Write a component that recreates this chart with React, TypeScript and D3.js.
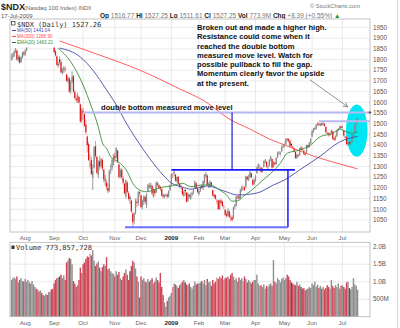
import React from "react";
import * as d3 from "d3";

// ---------- categories ----------
const holidays = ["2008-09-01", "2008-11-27", "2008-12-25", "2009-01-01", "2009-01-19", "2009-02-16", "2009-04-10", "2009-05-25", "2009-07-03"];
const monthLabels = ["Aug", "Sep", "Oct", "Nov", "Dec", "2009", "Feb", "Mar", "Apr", "May", "Jun", "Jul"];
const priceTicks = [1050, 1100, 1150, 1200, 1250, 1300, 1350, 1400, 1450, 1500, 1550, 1600, 1650, 1700, 1750, 1800, 1850, 1900, 1950];
const volTicks = [0.5, 1.0, 1.5, 2.0];
const volTickLabels = ["500M", "1.0B", "1.5B", "2.0B"];

// ---------- daily OHLC (Jul 18 2008 .. Jul 17 2009) ----------
const opens = [
  1805, 1812, 1818, 1838, 1842, 1798, 1812, 1788, 1808, 1832,
  1822, 1842, 1858, 1882, 1892, 1902, 1918, 1942, 1948, 1922, 1932, 1912, 1922, 1902, 1878, 1892, 1902, 1893, 1912, 1922, 1898,
  1890, 1838, 1815, 1770, 1800, 1788, 1738, 1752, 1758, 1730, 1698, 1712, 1655, 1698, 1722, 1648, 1618, 1612, 1625, 1590, 1515,
  1560, 1545, 1495, 1440, 1405, 1300, 1330, 1250, 1295, 1395, 1345, 1260, 1325, 1305, 1330, 1285, 1230, 1225, 1200, 1190, 1285, 1295, 1320,
  1350, 1345, 1375, 1310, 1255, 1285, 1245, 1220, 1160, 1225, 1175, 1155, 1140, 1080, 1050, 1085, 1135, 1130, 1180,
  1165, 1115, 1135, 1158, 1120, 1185, 1210, 1205, 1210, 1160, 1190, 1180, 1222, 1212, 1205, 1195, 1168, 1158, 1165, 1168, 1160, 1188,
  1215, 1258, 1268, 1262, 1232, 1252, 1218, 1206, 1200, 1162, 1190, 1178, 1140, 1168, 1150, 1168, 1178, 1200, 1222, 1198,
  1172, 1188, 1208, 1198, 1225, 1255, 1258, 1212, 1210, 1225, 1190, 1168, 1165, 1135, 1142, 1102, 1142, 1135, 1108,
  1098, 1078, 1072, 1090, 1062, 1062, 1058, 1112, 1118, 1158, 1160, 1152, 1188, 1195, 1202, 1205, 1252, 1238, 1250, 1268, 1238, 1218,
  1232, 1270, 1292, 1302, 1295, 1278, 1300, 1320, 1322, 1298, 1305, 1335, 1335, 1300, 1318, 1312, 1345, 1362, 1360, 1372, 1392,
  1398, 1405, 1428, 1428, 1420, 1405, 1392, 1385, 1368, 1340, 1352, 1355, 1388, 1382, 1375, 1362, 1365, 1400, 1392, 1410,
  1440, 1462, 1474, 1478, 1496, 1500, 1492, 1502, 1494, 1500, 1485, 1458, 1455, 1448, 1458, 1465, 1432, 1428, 1442, 1468, 1478, 1488,
  1482, 1470, 1440, 1438, 1402, 1412, 1405, 1418, 1442, 1458, 1497, 1516.77,
];
const highs = [
  1828, 1832, 1845, 1855, 1848, 1822, 1820, 1815, 1838, 1840,
  1848, 1865, 1885, 1895, 1908, 1925, 1948, 1955, 1950, 1935, 1938, 1925, 1928, 1908, 1895, 1905, 1908, 1915, 1925, 1928, 1905,
  1895, 1845, 1820, 1790, 1815, 1795, 1760, 1770, 1768, 1735, 1725, 1718, 1705, 1745, 1728, 1660, 1635, 1645, 1632, 1595, 1572,
  1575, 1548, 1520, 1445, 1415, 1355, 1345, 1310, 1395, 1420, 1350, 1330, 1350, 1340, 1340, 1290, 1260, 1240, 1220, 1285, 1310, 1340, 1360,
  1365, 1390, 1378, 1312, 1290, 1295, 1255, 1225, 1240, 1232, 1185, 1165, 1145, 1090, 1085, 1150, 1150, 1185, 1190,
  1168, 1145, 1165, 1165, 1175, 1220, 1225, 1225, 1215, 1198, 1195, 1230, 1230, 1218, 1210, 1198, 1175, 1170, 1172, 1175, 1188, 1215,
  1268, 1270, 1282, 1265, 1252, 1255, 1222, 1215, 1202, 1185, 1195, 1180, 1178, 1170, 1178, 1182, 1195, 1235, 1225, 1202,
  1190, 1208, 1215, 1235, 1265, 1275, 1262, 1225, 1235, 1228, 1192, 1172, 1170, 1148, 1145, 1145, 1150, 1140, 1120,
  1100, 1090, 1105, 1095, 1075, 1070, 1112, 1125, 1162, 1165, 1172, 1195, 1210, 1212, 1208, 1258, 1255, 1262, 1278, 1270, 1240, 1245,
  1260, 1300, 1315, 1310, 1298, 1295, 1328, 1335, 1325, 1305, 1335, 1350, 1338, 1325, 1322, 1345, 1370, 1372, 1370, 1398, 1405,
  1408, 1432, 1435, 1432, 1425, 1410, 1398, 1388, 1370, 1360, 1360, 1388, 1395, 1392, 1378, 1368, 1402, 1402, 1415, 1432,
  1470, 1480, 1485, 1498, 1508, 1505, 1502, 1505, 1512, 1502, 1488, 1462, 1460, 1460, 1472, 1465, 1440, 1445, 1472, 1480, 1490, 1492,
  1490, 1472, 1445, 1442, 1415, 1418, 1420, 1448, 1455, 1498, 1522, 1527.25,
];
const lows = [
  1795, 1800, 1812, 1830, 1795, 1790, 1782, 1785, 1805, 1815,
  1818, 1838, 1855, 1878, 1888, 1898, 1915, 1932, 1920, 1915, 1910, 1908, 1900, 1875, 1872, 1888, 1890, 1888, 1908, 1895, 1875,
  1830, 1815, 1770, 1762, 1775, 1735, 1730, 1738, 1740, 1698, 1690, 1645, 1640, 1690, 1645, 1615, 1600, 1598, 1590, 1505, 1505,
  1520, 1485, 1450, 1365, 1325, 1290, 1260, 1190, 1290, 1340, 1265, 1245, 1285, 1295, 1280, 1225, 1210, 1190, 1175, 1180, 1265, 1280, 1305,
  1320, 1335, 1315, 1245, 1245, 1240, 1215, 1170, 1150, 1175, 1140, 1125, 1085, 1020, 1030, 1075, 1110, 1115, 1160,
  1105, 1100, 1120, 1125, 1105, 1180, 1195, 1195, 1165, 1155, 1160, 1175, 1205, 1195, 1185, 1158, 1150, 1152, 1158, 1150, 1155, 1185,
  1210, 1245, 1255, 1228, 1225, 1215, 1200, 1195, 1165, 1158, 1165, 1132, 1135, 1150, 1145, 1160, 1170, 1195, 1195, 1175,
  1165, 1180, 1195, 1190, 1220, 1248, 1210, 1200, 1200, 1205, 1160, 1150, 1145, 1125, 1098, 1098, 1125, 1110, 1100,
  1068, 1060, 1065, 1060, 1045, 1042, 1055, 1100, 1112, 1150, 1145, 1148, 1182, 1190, 1185, 1200, 1235, 1232, 1245, 1245, 1210, 1212,
  1228, 1265, 1285, 1285, 1270, 1272, 1295, 1315, 1295, 1285, 1300, 1325, 1290, 1295, 1305, 1308, 1340, 1355, 1352, 1368, 1385,
  1390, 1400, 1415, 1410, 1390, 1390, 1382, 1365, 1335, 1335, 1345, 1350, 1375, 1375, 1355, 1350, 1360, 1385, 1388, 1405,
  1435, 1458, 1470, 1472, 1490, 1488, 1488, 1490, 1492, 1485, 1455, 1448, 1440, 1442, 1455, 1425, 1420, 1422, 1438, 1465, 1475, 1475,
  1478, 1440, 1432, 1402, 1398, 1402, 1400, 1412, 1438, 1455, 1495, 1511.61,
];
const closes = [
  1810, 1820, 1835, 1845, 1800, 1815, 1785, 1810, 1830, 1825,
  1840, 1860, 1880, 1890, 1900, 1920, 1940, 1945, 1925, 1930, 1915, 1920, 1905, 1880, 1890, 1900, 1895, 1910, 1920, 1900, 1880,
  1835, 1820, 1775, 1780, 1790, 1740, 1750, 1760, 1755, 1700, 1715, 1650, 1695, 1720, 1650, 1620, 1610, 1630, 1600, 1510, 1565,
  1550, 1490, 1460, 1400, 1330, 1320, 1265, 1280, 1390, 1350, 1270, 1320, 1300, 1335, 1290, 1240, 1245, 1205, 1185, 1280, 1290, 1330, 1345,
  1340, 1385, 1320, 1250, 1280, 1250, 1225, 1175, 1235, 1180, 1150, 1150, 1090, 1040, 1080, 1140, 1130, 1180, 1175,
  1110, 1140, 1160, 1135, 1170, 1215, 1205, 1215, 1175, 1195, 1175, 1225, 1215, 1200, 1195, 1165, 1160, 1165, 1170, 1160, 1185, 1212,
  1265, 1262, 1275, 1235, 1250, 1220, 1205, 1210, 1170, 1180, 1185, 1135, 1175, 1160, 1165, 1175, 1190, 1230, 1200, 1180,
  1185, 1205, 1200, 1230, 1260, 1265, 1215, 1220, 1230, 1210, 1165, 1160, 1150, 1140, 1100, 1140, 1130, 1115, 1110,
  1075, 1070, 1095, 1065, 1060, 1050, 1110, 1120, 1160, 1160, 1150, 1190, 1205, 1200, 1190, 1255, 1240, 1245, 1275, 1250, 1215, 1235,
  1255, 1295, 1310, 1305, 1275, 1290, 1325, 1330, 1300, 1300, 1330, 1345, 1295, 1320, 1310, 1340, 1365, 1365, 1365, 1390, 1395,
  1400, 1430, 1425, 1420, 1395, 1400, 1390, 1370, 1340, 1355, 1350, 1385, 1385, 1380, 1360, 1355, 1400, 1390, 1410, 1430,
  1465, 1475, 1480, 1495, 1500, 1495, 1500, 1495, 1500, 1490, 1460, 1455, 1450, 1455, 1470, 1430, 1425, 1440, 1470, 1475, 1485, 1480,
  1485, 1445, 1440, 1405, 1410, 1410, 1415, 1445, 1450, 1495, 1519, 1527.25,
];
// volume, billions of shares
const volumes = [
  1.05, 1.10, 1.12, 1.08, 1.15, 0.98, 1.05, 1.10, 1.02, 1.00,
  1.08, 1.00, 1.05, 0.98, 0.95, 1.02, 0.92, 0.85, 0.80, 0.78, 0.72, 0.75, 0.68, 0.62, 0.60, 0.65, 0.62, 0.70, 0.72, 0.78, 0.80,
  0.95, 1.05, 1.10, 1.12, 1.15, 1.20, 1.10, 1.18, 1.05, 1.55, 1.60, 1.68, 1.65, 1.50, 1.02, 0.95, 0.85, 0.90, 1.05, 1.40, 1.25,
  1.50, 1.55, 1.65, 1.72, 1.70, 1.80, 1.75, 1.90, 1.60, 1.45, 1.52, 1.58, 1.40, 1.30, 1.42, 1.50, 1.45, 1.70, 1.35, 1.38, 1.30, 1.25, 1.22,
  1.15, 1.30, 1.20, 1.28, 1.10, 1.05, 1.15, 1.25, 1.35, 1.20, 1.05, 1.30, 1.45, 1.60, 1.55, 1.38, 1.15, 1.00, 0.55,
  1.15, 1.05, 1.10, 1.00, 0.98, 1.08, 1.00, 1.05, 1.10, 0.95, 1.00, 1.12, 1.05, 0.98, 1.25, 0.85, 0.62, 0.40, 0.28, 0.45, 0.55, 0.60,
  0.68, 0.85, 0.95, 0.92, 0.88, 0.82, 0.90, 0.95, 1.00, 1.05, 0.98, 0.92, 0.90, 0.95, 0.85, 0.80, 0.88, 1.00, 0.92, 0.95,
  0.95, 0.98, 1.02, 0.95, 1.05, 0.90, 1.08, 0.98, 1.00, 0.88, 1.05, 0.95, 1.00, 1.12, 1.08, 1.15, 1.10, 1.18, 1.05,
  1.10, 1.12, 1.15, 1.08, 1.20, 1.25, 1.15, 1.05, 1.10, 1.00, 1.12, 1.05, 1.10, 1.02, 1.15, 1.08, 0.98, 1.05, 1.00, 0.95, 1.00, 1.05,
  1.05, 1.20, 0.95, 0.88, 0.90, 0.85, 0.92, 0.80, 0.88, 0.85, 0.92, 0.95, 0.88, 1.62, 1.00, 0.95, 1.10, 1.05, 0.98, 1.08, 1.12,
  1.05, 1.10, 1.20, 1.15, 1.05, 0.98, 0.95, 0.92, 0.90, 1.00, 0.88, 0.92, 0.85, 0.80, 0.82, 0.75, 0.78, 0.80, 0.85, 0.82,
  0.95, 0.90, 1.00, 0.85, 0.92, 0.82, 0.88, 0.80, 0.85, 0.78, 0.82, 0.90, 0.85, 0.80, 1.05, 0.88, 0.82, 0.90, 0.85, 0.95, 0.80, 0.88,
  0.90, 0.85, 0.80, 0.98, 1.00, 0.82, 0.78, 0.85, 1.10, 0.92, 0.88, 0.774,
];

// ---------- overlays: [day index, value] ----------
const ma50 = [[35, 1854], [50, 1812], [59, 1751], [69, 1658], [77, 1578], [82, 1518], [91, 1424], [100, 1340], [110, 1260], [116, 1223], [124, 1204], [130, 1194], [142, 1209], [154, 1186], [164, 1167], [178, 1176], [190, 1214], [198, 1237], [209, 1284], [224, 1349], [238, 1415], [251, 1441]];
const ma200 = [[35, 1887], [64, 1821], [93, 1751], [122, 1663], [140, 1606], [158, 1522], [173, 1475], [187, 1429], [200, 1396], [219, 1349], [238, 1312], [251, 1289]];
const ema20 = [[34, 1853], [43, 1790], [52, 1681], [58, 1580], [63, 1486], [66, 1410], [69, 1385], [72, 1346], [75, 1331], [79, 1315], [84, 1276], [88, 1222], [93, 1190], [98, 1182], [103, 1190], [109, 1203], [116, 1209], [124, 1222], [130, 1206], [139, 1214], [144, 1214], [151, 1190], [156, 1167], [160, 1138], [164, 1140], [169, 1165], [174, 1188], [181, 1229], [188, 1268], [195, 1315], [200, 1362], [209, 1377], [217, 1401], [224, 1440], [233, 1455], [238, 1475], [243, 1462], [247, 1455], [251, 1463]];

// annotation levels (price) and anchors (day index)
const measuredLevel = 1553;
const priorHigh = 1512;
const boxTop = 1284;
const boxBottom = 1016;

const noteLines = [
  "Broken out and made a higher high.",
  "Resistance could come when it",
  "reached the double bottom",
  "measured move level.  Watch for",
  "possible pullback to fill the gap.",
  "Momentum clearly favor the upside",
  "at the present.",
];

function buildDates() {
  const fmt = d3.timeFormat("%Y-%m-%d");
  return d3.timeDay
    .range(new Date(2008, 6, 18), new Date(2009, 6, 18))
    .filter((d) => d.getDay() !== 0 && d.getDay() !== 6 && !holidays.includes(fmt(d)));
}

const SANS = "'Liberation Sans', Arial, sans-serif";
const MONO = "'DejaVu Sans Mono', monospace";

export default function App() {
  const dates = buildDates();
  const x = d3.scaleLinear().domain([-1, 260]).range([10, 370]);
  const y = d3.scaleLinear().domain([1050, 1950]).range([220, 27.5]);
  const yv = d3.scaleLinear().domain([0, 2]).range([316.7, 246.7]);

  const monthStarts: number[] = [];
  for (let i = 1; i < dates.length; i++) {
    if (dates[i].getMonth() !== dates[i - 1].getMonth()) monthStarts.push(i);
  }

  const line = d3
    .line<number[]>()
    .x((d) => x(d[0]))
    .y((d) => y(d[1]))
    .curve(d3.curveMonotoneX);

  const P = { l: 10, t: 19, r: 370, b: 232 };
  const V = { l: 10, t: 242.3, r: 370, b: 316.7 };

  const candles = closes.map((c, i) => {
    const o = opens[i];
    const prev = i > 0 ? closes[i - 1] : o;
    const up = c >= prev;
    const hollow = c > o;
    const dark = up ? "#111" : "#dd1111";
    const light = up ? "#8a8a8a" : "#f09090";
    const wick = up ? "#707070" : "#e46a6a";
    const cx = x(i);
    const y1 = y(Math.max(o, c));
    const y2 = y(Math.min(o, c));
    return (
      <g key={i}>
        <line x1={cx} x2={cx} y1={y(highs[i])} y2={y(lows[i])} stroke={wick} strokeWidth={0.7} />
        <rect x={cx - 0.6} y={y1} width={1.2} height={Math.max(0.8, y2 - y1)} fill={hollow ? light : dark} />
      </g>
    );
  });

  const vbars = volumes.map((v, i) => {
    const prev = i > 0 ? closes[i - 1] : opens[i];
    const up = closes[i] >= prev;
    const hollow = closes[i] > opens[i];
    const fill = up ? (hollow ? "#8f8f8f" : "#555") : hollow ? "#e38792" : "#cf4657";
    return <rect key={i} x={x(i) - 0.7} y={yv(v)} width={1.4} height={V.b - yv(v)} fill={fill} />;
  });

  const ellCx = x(250.4);
  const ellRx = x(258.2) - x(250.4);
  const ellCy = y(1468);
  const ellRy = y(1468) - y(1590);

  const arrowFrom = [x(216.5), y(1705)];
  const arrowTo = [x(243.9), y(1579)];
  const ang = Math.atan2(arrowTo[1] - arrowFrom[1], arrowTo[0] - arrowFrom[0]);
  const ah = 5;
  const head1 = [arrowTo[0] - ah * Math.cos(ang - 0.5), arrowTo[1] - ah * Math.sin(ang - 0.5)];
  const head2 = [arrowTo[0] - ah * Math.cos(ang + 0.5), arrowTo[1] - ah * Math.sin(ang + 0.5)];

  const grid = "#e4e4e4";

  return (
    <svg width={400} height={328} style={{ position: "absolute", left: 0, top: 0, background: "#fff" }} fontFamily={SANS}>
      <defs>
        <clipPath id="pclip">
          <rect x={P.l} y={P.t} width={P.r - P.l} height={P.b - P.t} />
        </clipPath>
      </defs>
      <rect x={0} y={0} width={400} height={328} fill="#fff" />

      {/* header */}
      <text x={1} y={10} fontSize={9} fontWeight="bold" fill="#222">$NDX</text>
      <text x={24} y={10} fontSize={6} fill="#666">(Nasdaq 100 Index) <tspan fontSize={5.5}>INDX</tspan></text>
      <text x={1} y={18} fontSize={6} fill="#555">17-Jul-2009</text>
      <text x={100} y={18} fontSize={6.5} fill="#777">
        <tspan fontWeight="bold" fill="#222">Op</tspan> 1516.77 <tspan fontWeight="bold" fill="#222">Hi</tspan> 1527.25 <tspan fontWeight="bold" fill="#222">Lo</tspan> 1511.61 <tspan fontWeight="bold" fill="#222">Cl</tspan> 1527.25 <tspan fontWeight="bold" fill="#222">Vol</tspan> 773.9M <tspan fontWeight="bold" fill="#222">Chg</tspan> +8.39 (+0.55%) <tspan fill="#2a8a2a">▲</tspan>
      </text>
      <text x={360} y={8} fontSize={5.8} fill="#777" textAnchor="end">© StockCharts.com</text>

      {/* price panel */}
      <rect x={P.l} y={P.t} width={P.r - P.l} height={P.b - P.t} fill="#fff" />
      {priceTicks.map((t) => (
        <line key={t} x1={P.l} x2={P.r} y1={y(t)} y2={y(t)} stroke={grid} strokeWidth={0.8} />
      ))}
      {monthStarts.map((i) => (
        <line key={i} x1={x(i)} x2={x(i)} y1={P.t} y2={P.b} stroke={grid} strokeWidth={0.8} />
      ))}
      <ellipse cx={ellCx} cy={ellCy} rx={ellRx} ry={ellRy} fill="#00e6f2" />
      <g clipPath="url(#pclip)">
        {candles}
        <path d={line(ma200) || ""} fill="none" stroke="#ff4d4d" strokeWidth={0.9} />
        <path d={line(ma50) || ""} fill="none" stroke="#4a4aa8" strokeWidth={0.9} />
        <path d={line(ema20) || ""} fill="none" stroke="#3a8f3a" strokeWidth={0.9} />

        {/* annotations */}
        <line x1={x(52)} x2={P.r} y1={y(measuredLevel)} y2={y(measuredLevel)} stroke="#b8b8f2" strokeWidth={2} />
        <line x1={x(223)} x2={P.r} y1={y(priorHigh)} y2={y(priorHigh)} stroke="#b8b8f2" strokeWidth={2} />
        <line x1={x(160)} x2={x(160)} y1={y(measuredLevel)} y2={y(boxTop)} stroke="#1a1ae0" strokeWidth={1.2} />
        <line x1={x(116)} x2={x(205.6)} y1={y(boxTop)} y2={y(boxTop)} stroke="#1a1aff" strokeWidth={1.8} />
        <line x1={x(200.5)} x2={x(200.5)} y1={y(boxTop)} y2={y(boxBottom)} stroke="#1a1aff" strokeWidth={1.5} />
        <line x1={x(82.4)} x2={x(200.5)} y1={y(boxBottom)} y2={y(boxBottom)} stroke="#6e6eff" strokeWidth={1.8} />
        <line x1={arrowFrom[0]} y1={arrowFrom[1]} x2={arrowTo[0]} y2={arrowTo[1]} stroke="#666" strokeWidth={0.7} />
        <polyline points={`${head1[0]},${head1[1]} ${arrowTo[0]},${arrowTo[1]} ${head2[0]},${head2[1]}`} fill="none" stroke="#666" strokeWidth={0.7} />
      </g>
      <circle cx={P.r} cy={y(measuredLevel)} r={1.2} fill="#223" />
      <text x={101} y={109.5} fontSize={7.6} fill="#111" fontWeight={600}>double bottom measured move level</text>
      {noteLines.map((s, k) => (
        <text key={k} x={197} y={30 + k * 9.25} fontSize={7.6} fill="#111" fontWeight={600}>{s}</text>
      ))}

      {/* legend */}
      <rect x={P.l + 0.5} y={P.t + 0.5} width={48} height={28} fill="#fff" />
      <rect x={11.5} y={21.5} width={3.5} height={3.5} fill="none" stroke="#333" strokeWidth={0.7} />
      <text x={17} y={27} fontSize={7} fontFamily={MONO} fill="#333">$NDX (Daily) 1527.26</text>
      <line x1={12} x2={16} y1={30.5} y2={30.5} stroke="#4a4aa8" strokeWidth={1} />
      <text x={17} y={32} fontSize={4.6} fill="#4a4aa8">MA(50) 1441.04</text>
      <line x1={12} x2={16} y1={36.5} y2={36.5} stroke="#ff4d4d" strokeWidth={1} />
      <text x={17} y={38} fontSize={4.6} fill="#ff4d4d">MA(200) 1288.90</text>
      <line x1={12} x2={16} y1={42.5} y2={42.5} stroke="#2a6a2a" strokeWidth={1} />
      <text x={17} y={44} fontSize={4.6} fill="#3a8f3a">EMA(20) 1463.21</text>

      <rect x={P.l} y={P.t} width={P.r - P.l} height={P.b - P.t} fill="none" stroke="#b5b5b5" strokeWidth={0.8} />
      {priceTicks.map((t) => (
        <text key={t} x={373} y={y(t) + 2.2} fontSize={6.3} fill="#555">{t}</text>
      ))}

      {/* month labels under price panel */}
      {monthStarts.map((i, k) => (
        <text key={i} x={x(i)} y={240} fontSize={6.2} textAnchor="middle" fill={k === 5 ? "#222" : "#666"} fontWeight={k === 5 ? "bold" : "normal"}>
          {monthLabels[k]}
        </text>
      ))}

      {/* volume panel */}
      <rect x={V.l} y={V.t} width={V.r - V.l} height={V.b - V.t} fill="#fff" />
      {volTicks.map((t) => (
        <line key={t} x1={V.l} x2={V.r} y1={yv(t)} y2={yv(t)} stroke={grid} strokeWidth={0.8} />
      ))}
      {monthStarts.map((i) => (
        <line key={i} x1={x(i)} x2={x(i)} y1={V.t} y2={V.b} stroke={grid} strokeWidth={0.8} />
      ))}
      {vbars}
      <rect x={V.l} y={V.t} width={V.r - V.l} height={V.b - V.t} fill="none" stroke="#b5b5b5" strokeWidth={0.8} />
      <rect x={11.5} y={245.5} width={3} height={3.5} fill="#333" />
      <text x={16} y={250} fontSize={7} fontFamily={MONO} fill="#333">Volume 773,857,728</text>
      {volTicks.map((t, k) => (
        <text key={t} x={373} y={yv(t) + 2.2} fontSize={6.3} fill="#555">{volTickLabels[k]}</text>
      ))}
      {monthStarts.map((i, k) => (
        <text key={i} x={x(i)} y={324.5} fontSize={6.2} textAnchor="middle" fill={k === 5 ? "#222" : "#666"} fontWeight={k === 5 ? "bold" : "normal"}>
          {monthLabels[k]}
        </text>
      ))}
      <line x1={397.5} x2={397.5} y1={0} y2={328} stroke="#ccc" strokeWidth={0.8} />
    </svg>
  );
}
